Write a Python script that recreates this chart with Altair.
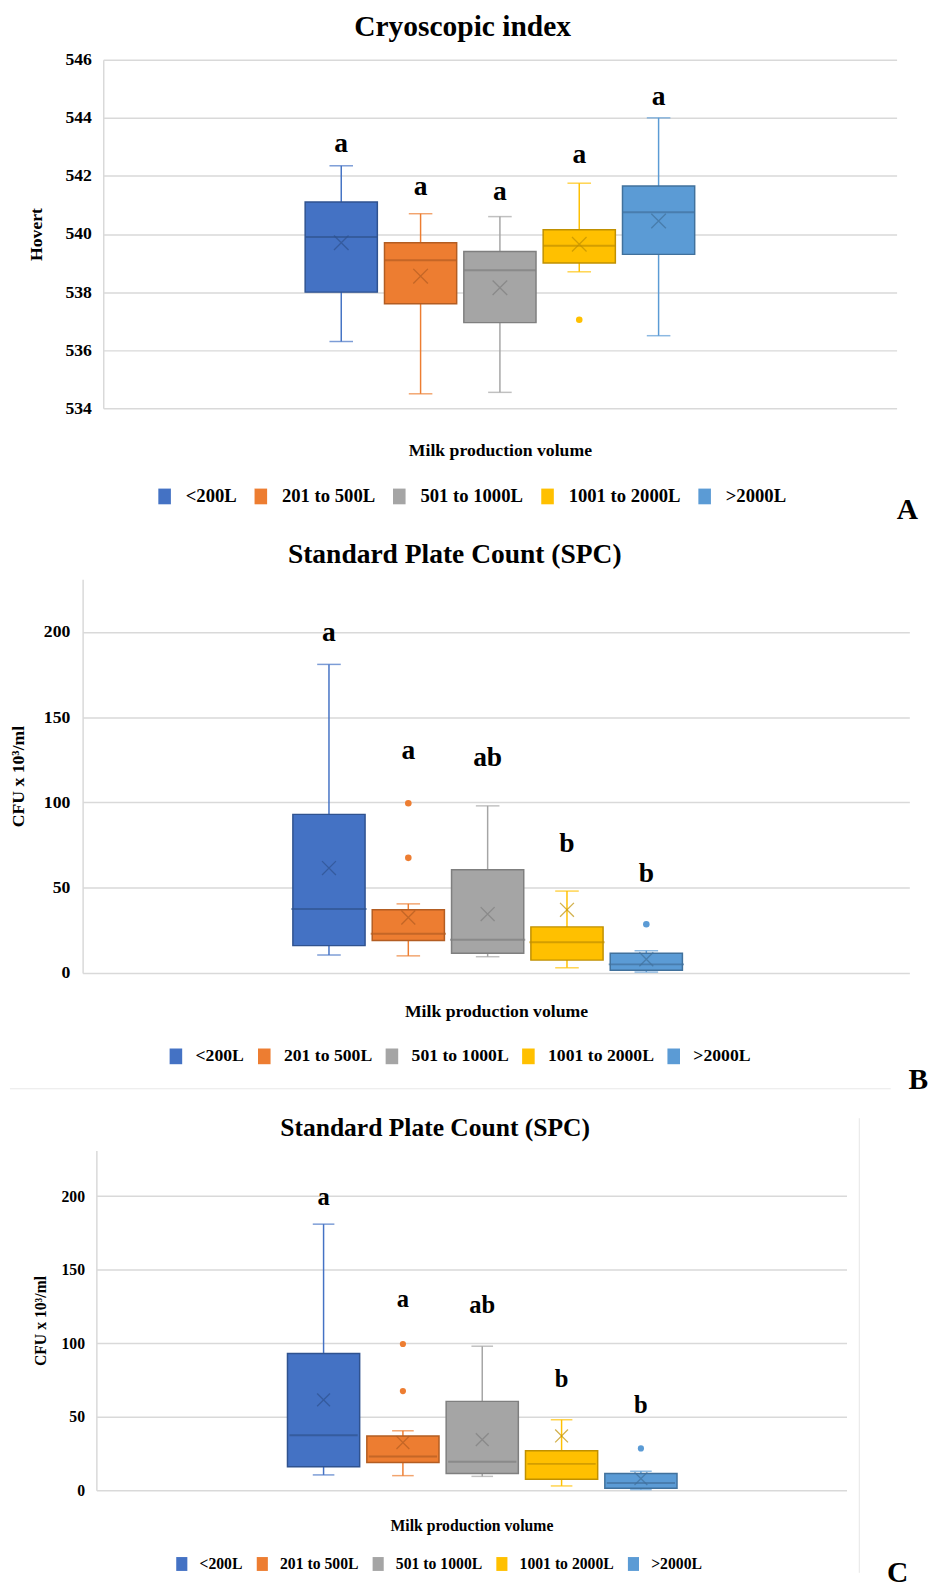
import altair as alt
import pandas as pd

SERIF = "Liberation Serif"
GRID = "#D9D9D9"

groups = ["<200L", "201 to 500L", "501 to 1000L", "1001 to 2000L", ">2000L"]
fill_colors = ["#4472C4", "#ED7D31", "#A5A5A5", "#FFC000", "#5B9BD5"]
dark_colors = ["#2F528F", "#B35D22", "#7F7F7F", "#C09000", "#41719C"]

# Panel A - Cryoscopic index (Hovert)
a_low = [536.3, 534.5, 534.55, 538.7, 536.5]
a_q1 = [538.0, 537.6, 536.95, 539.0, 539.3]
a_med = [539.9, 539.1, 538.75, 539.6, 540.75]
a_q3 = [541.1, 539.7, 539.4, 540.15, 541.65]
a_high = [542.35, 540.7, 540.6, 541.75, 544.0]
a_mean = [539.7, 538.55, 538.15, 539.65, 540.45]
a_out_group = ["1001 to 2000L"]
a_out_val = [537.05]
a_letters = ["a", "a", "a", "a", "a"]
a_letter_y = [543.1, 541.6, 541.45, 542.7, 544.7]
a_ticks = [534, 536, 538, 540, 542, 544, 546]

# Panels B and C - Standard Plate Count (CFU x 10^3/ml)
s_low = [10.5, 10.0, 9.5, 3.0, 0.5]
s_q1 = [16.0, 19.0, 11.5, 7.5, 1.5]
s_med = [37.5, 23.0, 19.5, 18.0, 5.0]
s_q3 = [93.0, 37.0, 60.5, 27.0, 11.5]
s_high = [181.0, 40.5, 98.0, 48.0, 13.0]
s_mean = [61.5, 32.5, 34.5, 37.0, 8.0]
s_out_group = ["201 to 500L", "201 to 500L", ">2000L"]
s_out_val = [99.5, 67.5, 28.5]
s_letters = ["a", "a", "ab", "b", "b"]
s_letter_y = [199.5, 130.0, 126.0, 75.5, 58.0]
s_ticks = [0, 50, 100, 150, 200]


def spacer(w):
    return alt.Chart(alt.Data(values=[{}])).mark_point(opacity=0, size=1).properties(width=w, height=1)


def side_cell(cfg):
    tag = pd.DataFrame({"tag": [cfg["tag"]]})
    layers = []
    if cfg.get("vrule"):
        x0, y1, y2 = cfg["vrule"]
        layers.append(alt.Chart(tag).mark_rule(color="#E6E6E6", strokeWidth=1).encode(
            x=alt.value(x0), y=alt.value(y1), y2=alt.value(y2)))
    layers.append(alt.Chart(tag).mark_text(font=SERIF, fontWeight="bold", fontSize=30,
                                           baseline="middle", align="center", color="black").encode(
        x=alt.value(cfg["side_tx"]), y=alt.value(cfg["ty"]), text="tag:N"))
    return alt.layer(*layers).properties(width=cfg["side_w"], height=cfg["h"])


def make_panel(low, q1, med, q3, high, mean, letters, letter_y, out_group, out_val, cfg):
    box = pd.DataFrame({
        "cat": "all", "group": groups, "low": low, "q1": q1, "med": med,
        "q3": q3, "high": high, "mean": mean, "letter": letters, "ly": letter_y,
    })
    outl = pd.DataFrame({"cat": "all", "group": out_group, "value": out_val})
    tag = pd.DataFrame({"tag": [cfg["tag"]]})

    W, H = cfg["w"], cfg["h"]
    slot = W / 2 / 5
    box_w = slot * 0.91

    x = alt.X("cat:N", title="Milk production volume",
              scale=alt.Scale(paddingInner=0, paddingOuter=0.5),
              axis=alt.Axis(labels=False, ticks=False, domain=False, grid=False,
                            titleFont=SERIF, titleFontSize=cfg["xt_size"],
                            titleFontWeight="bold", titleColor="black",
                            titlePadding=cfg["xt_pad"]))
    xo = alt.XOffset("group:N", scale=alt.Scale(domain=groups, paddingInner=0.09, paddingOuter=0.045))
    yscale = alt.Scale(domain=cfg["domain"], nice=False, zero=False)
    yaxis = alt.Axis(values=cfg["ticks"], format="d", ticks=False, domainColor=GRID,
                     domainWidth=1.5, gridColor=GRID, gridWidth=1.5,
                     labelFont=SERIF, labelFontSize=cfg["tick_size"], labelFontWeight="bold",
                     labelColor="black", labelPadding=cfg["label_pad"],
                     titleFont=SERIF, titleFontSize=cfg["yt_size"], titleFontWeight="bold",
                     titleColor="black", titlePadding=cfg["yt_pad"])

    def Y(f):
        return alt.Y(f, scale=yscale, axis=yaxis, title=cfg["ytitle"])

    main = alt.Scale(domain=groups, range=fill_colors)
    dark = alt.Scale(domain=groups, range=dark_colors)
    cmain = alt.Color("group:N", scale=main, legend=None)
    cdark = alt.Color("group:N", scale=dark, legend=None)

    base = alt.Chart(box)
    whisk = base.mark_rule(strokeWidth=1.5).encode(x=x, xOffset=xo, y=Y("low:Q"), y2="high:Q", color=cmain)
    cap_hi = base.mark_tick(thickness=1.5, size=cfg["cap"]).encode(x=x, xOffset=xo, y=Y("high:Q"), color=cmain)
    cap_lo = base.mark_tick(thickness=1.5, size=cfg["cap"]).encode(x=x, xOffset=xo, y=Y("low:Q"), color=cmain)
    boxes = base.mark_bar(strokeWidth=1.5).encode(
        x=x, xOffset=xo, y=Y("q1:Q"), y2="q3:Q",
        fill=alt.Fill("group:N", scale=main, legend=alt.Legend(
            orient="none", legendX=cfg["lx"], legendY=cfg["ly"], direction="horizontal",
            title=None, symbolType="M-0.8,-1H0.8V1H-0.8Z", symbolSize=cfg["sym"],
            symbolStrokeWidth=0, labelFont=SERIF, labelFontSize=cfg["leg_size"],
            labelFontWeight="bold", labelColor="black", columnPadding=cfg["colpad"],
            labelOffset=cfg["laboff"], padding=0, labelLimit=0)),
        stroke=alt.Stroke("group:N", scale=dark, legend=None),
    )
    median = base.mark_tick(thickness=2, size=box_w).encode(x=x, xOffset=xo, y=Y("med:Q"), color=cdark)
    means = base.mark_point(shape="M-1,-1L1,1M-1,1L1,-1", filled=False, size=cfg["xsize"],
                            strokeWidth=1.3).encode(x=x, xOffset=xo, y=Y("mean:Q"), color=cdark)
    outs = alt.Chart(outl).mark_circle(size=cfg["osize"], opacity=1).encode(
        x=x, xOffset=xo, y=Y("value:Q"), color=cmain)
    lets = base.mark_text(font=SERIF, fontWeight="bold", fontSize=cfg["let_size"],
                          baseline="middle", color="black").encode(
        x=x, xOffset=xo, y=Y("ly:Q"), text="letter:N")

    layers = [whisk, cap_hi, cap_lo, boxes, median, means, outs, lets]
    if cfg.get("tx") is not None:
        layers.append(alt.Chart(tag).mark_text(font=SERIF, fontWeight="bold", fontSize=30,
                                               baseline="middle", align="center", color="black").encode(
            x=alt.value(cfg["tx"]), y=alt.value(cfg["ty"]), text="tag:N"))
    for (x1, x2, y1, y2) in cfg.get("rules", []):
        layers.append(alt.Chart(tag).mark_rule(color="#E8E8E8", strokeWidth=1).encode(
            x=alt.value(x1), x2=alt.value(x2), y=alt.value(y1), y2=alt.value(y2)))

    chart = alt.layer(*layers).resolve_scale(color="independent").properties(
        width=W, height=H,
        title=alt.TitleParams(cfg["title"], font=SERIF, fontSize=cfg["title_size"],
                              fontWeight="bold", color="black", anchor="middle",
                              dx=cfg["title_dx"], offset=cfg["title_off"]),
    )
    cells = [spacer(cfg["sp"]), chart]
    if cfg.get("side_w"):
        cells.append(side_cell(cfg))
    return alt.hconcat(*cells, spacing=0).resolve_scale(
        fill="independent", stroke="independent").resolve_legend(fill="independent")


cfgA = dict(tag="A", w=808, h=355, domain=[534, 546], ticks=a_ticks, ytitle="Hovert",
            tick_size=18, label_pad=12, yt_size=18, yt_pad=20, xt_size=18, xt_pad=34,
            title="Cryoscopic index", title_size=30, title_dx=-38, title_off=9,
            cap=24, xsize=220, osize=45, let_size=28, lx=53, ly=435, sym=256,
            leg_size=19, colpad=15, laboff=12, tx=819, ty=459, sp=20)
cfgB = dict(tag="B", w=842, h=401, domain=[0, 231], ticks=s_ticks, ytitle="CFU x 10³/ml",
            tick_size=18, label_pad=13, yt_size=18, yt_pad=16, xt_size=18, xt_pad=30,
            title="Standard Plate Count (SPC)", title_size=28, title_dx=-42, title_off=10,
            cap=24, xsize=200, osize=45, let_size=28, lx=86, ly=477, sym=256,
            leg_size=18, colpad=11, laboff=11, tx=851, ty=510, sp=1,
            rules=[(-74, 823, 519, 519)])
cfgC = dict(tag="C", w=764, h=346, domain=[0, 231], ticks=s_ticks, ytitle="CFU x 10³/ml",
            tick_size=16, label_pad=12, yt_size=16, yt_pad=13, xt_size=16, xt_pad=28,
            title="Standard Plate Count (SPC)", title_size=26, title_dx=-37, title_off=10,
            cap=22, xsize=170, osize=40, let_size=25, lx=79, ly=413, sym=200,
            leg_size=16, colpad=12, laboff=10, tx=None, ty=430, sp=25,
            side_w=60, side_tx=52, vrule=(13, -33, 430))

rowA = make_panel(a_low, a_q1, a_med, a_q3, a_high, a_mean, a_letters, a_letter_y,
                  a_out_group, a_out_val, cfgA)
rowB = make_panel(s_low, s_q1, s_med, s_q3, s_high, s_mean, s_letters, s_letter_y,
                  s_out_group, s_out_val, cfgB)
rowC = make_panel(s_low, s_q1, s_med, s_q3, s_high, s_mean, s_letters, s_letter_y,
                  s_out_group, s_out_val, cfgC)


def indep(c):
    return c.resolve_scale(fill="independent", stroke="independent").resolve_legend(fill="independent")


top = indep(alt.vconcat(rowA, rowB, spacing=17))
chart = indep(alt.vconcat(top, rowC, spacing=21)).configure_view(
    stroke=None).properties(padding={"top": -10, "left": 0, "right": 0, "bottom": 0})

chart.save("out.html", embed_options={"renderer": "svg", "actions": False})
